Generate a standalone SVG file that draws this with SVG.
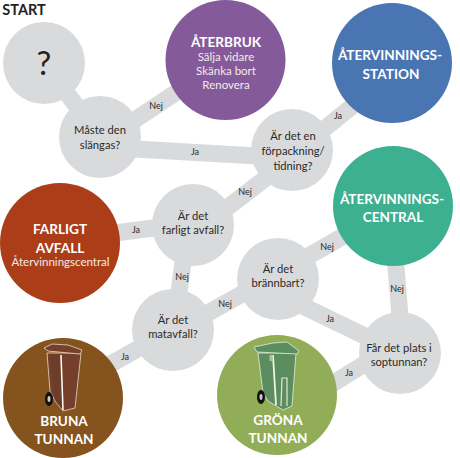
<svg xmlns="http://www.w3.org/2000/svg" width="460" height="458" viewBox="0 0 460 458">
<style>
text{font-family:Lato,"Open Sans","Liberation Sans",sans-serif;text-anchor:middle}
.q{fill:#d9dadc}
.c{stroke:#d9dadc;stroke-width:17;fill:none}
.t{font-size:11.200px;fill:#2b2a29}
.l{font-size:9px;fill:#2b2a29}
.h{font-size:13.600px;font-weight:700;fill:#fff}
.s{font-size:11.500px;fill:#f2ece8}
.bl{fill:#74402c;stroke:#e8d9c8;stroke-width:.8}
.gl{fill:#5c8d5f;stroke:#e4ecd8;stroke-width:.8}
</style>
<rect width="460" height="458" fill="#fff"/>
<text x="24" y="15" style="font-size:14.500px;font-weight:700;fill:#222">START</text>
<g id="connectors">
<path class="c" d="M44 63L100 137"/>
<path class="c" d="M100 143L225 60"/>
<path class="c" d="M100 147L292 158"/>
<path class="c" d="M292 155L392 74"/>
<path class="c" d="M292 158L193 234"/>
<path class="c" d="M193 223L60 240"/>
<path class="c" d="M188 225L174 330"/>
<path class="c" d="M173 329L63 391"/>
<path class="c" d="M173 333L393 208"/>
<path class="c" d="M278 294L400 353"/>
<path class="c" d="M391 206L403 353"/>
<path class="c" d="M400 342L277 418"/>
</g>
<g id="start"><circle class="q" cx="44" cy="63" r="41"/><text x="44" y="75" style="font-size:33px;fill:#222">?</text></g>
<g id="slangas"><circle class="q" cx="100" cy="137" r="41"/><text class="t" x="100" y="134">Måste den</text><text class="t" x="100" y="149">slängas?</text></g>
<g id="aterbruk"><circle cx="225.500" cy="60" r="60" fill="#855a9b"/><text class="h" x="226" y="47">ÅTERBRUK</text><text class="s" x="226" y="61">Sälja vidare</text><text class="s" x="226" y="75">Skänka bort</text><text class="s" x="226" y="89">Renovera</text></g>
<g id="station"><circle cx="392" cy="63" r="60" fill="#4a75b3"/><text class="h" x="390" y="60">ÅTERVINNINGS-</text><text class="h" x="391" y="79">STATION</text></g>
<g id="forpackning"><circle class="q" cx="292" cy="150" r="41"/><text class="t" x="293" y="140">Är det en</text><text class="t" x="293" y="155">förpackning/</text><text class="t" x="293" y="170">tidning?</text></g>
<g id="central"><circle cx="393" cy="206" r="60" fill="#3cb091"/><text class="h" x="392" y="204">ÅTERVINNINGS-</text><text class="h" x="393" y="222">CENTRAL</text></g>
<g id="farligt"><circle cx="60" cy="243" r="60" fill="#ab3d19"/><text class="h" x="60" y="234">FARLIGT</text><text class="h" x="60" y="253">AVFALL</text><text class="s" x="60.500" y="266">Återvinningscentral</text></g>
<g id="farligtq"><circle class="q" cx="193" cy="225" r="41"/><text class="t" x="193" y="220">Är det</text><text class="t" x="193" y="234">farligt avfall?</text></g>
<g id="matavfall"><circle class="q" cx="173" cy="330" r="41"/><text class="t" x="173" y="324">Är det</text><text class="t" x="173" y="338">matavfall?</text></g>
<g id="brannbart"><circle class="q" cx="278" cy="279" r="41"/><text class="t" x="278" y="273">Är det</text><text class="t" x="278" y="287">brännbart?</text></g>
<g id="plats"><circle class="q" cx="400" cy="353" r="41"/><text class="t" x="399" y="352">Får det plats i</text><text class="t" x="399" y="366">soptunnan?</text></g>
<g id="bruna"><circle cx="63" cy="398" r="60" fill="#85541e"/>
<path class="bl" d="M47 353L50 391L55 401L63 411L75 408L81 353Z"/>
<path class="bl" d="M44 348L52 344L68 345L82 350L80 354L48 351Z"/>
<path d="M50 355L59 355L61 408L55 400Z" fill="#6b3d2a"/>
<path d="M61 355L63 410" stroke="#fff" stroke-width="1.500"/>
<ellipse cx="49" cy="399" rx="4" ry="7" fill="#111"/><ellipse cx="49" cy="399" rx="1.500" ry="3" fill="#ccc"/>
<text class="h" x="64" y="426">BRUNA</text><text class="h" x="64" y="444">TUNNAN</text></g>
<g id="grona"><circle cx="277" cy="395" r="60" fill="#92ad58"/>
<path class="gl" d="M258 353L263 393L268 401L283 410L292 406L296 353Z"/>
<path class="gl" d="M254 347L273 343L287 342L299 351L297 354L257 352Z"/>
<path d="M273 355L276 405" stroke="#eef3e4" stroke-width="1.800"/>
<path d="M269.500 355H272.500V361H269.500Z" fill="#a8c4a0"/>
<path d="M281 406L282 378H287V406" fill="none" stroke="#dfe9d0" stroke-width="1.200"/>
<ellipse cx="261" cy="397" rx="4" ry="7" fill="#111"/><ellipse cx="261" cy="397" rx="1.500" ry="3" fill="#ccc"/>
<text class="h" x="278" y="425">GRÖNA</text><text class="h" x="278" y="443">TUNNAN</text></g>
<g id="labels">
<text class="l" x="156" y="109">Nej</text><text class="l" x="195" y="155">Ja</text><text class="l" x="338" y="119">Ja</text><text class="l" x="245" y="195">Nej</text>
<text class="l" x="136" y="233">Ja</text><text class="l" x="182" y="280">Nej</text><text class="l" x="125" y="360">Ja</text><text class="l" x="225" y="307">Nej</text>
<text class="l" x="327" y="250">Nej</text><text class="l" x="397" y="292">Nej</text><text class="l" x="330" y="322">Ja</text><text class="l" x="349" y="376">Ja</text>
</g>
</svg>
